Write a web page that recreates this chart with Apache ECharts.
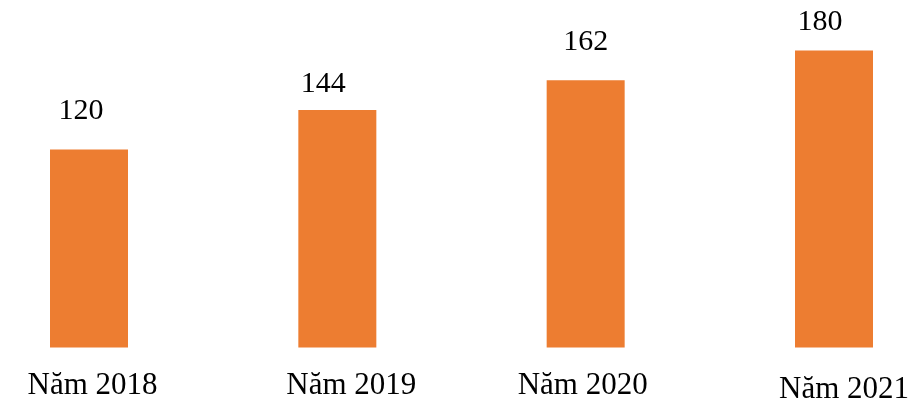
<!DOCTYPE html>
<html>
<head>
<meta charset="utf-8">
<script src="https://cdn.jsdelivr.net/npm/echarts@6/dist/echarts.min.js"></script>
<style>
  html, body { margin: 0; padding: 0; background: #fff; }
  #chart { width: 918px; height: 407px; }
</style>
</head>
<body>
<div id="chart"></div>
<script>
  var categories = ['Năm 2018', 'Năm 2019', 'Năm 2020', 'Năm 2021'];
  var values = [120, 144, 162, 180];

  // small hand placement of the texts, as in the picture
  var valueLabelShift = [[-8, 1], [-14, 13], [0, 1], [-14, 11]];
  var axisLabelPad = [[0, 0, 0, 7], [0, 0, 0, 28], [0, 6, 0, 0], [4, 0, 0, 20]];

  var chart = echarts.init(document.getElementById('chart'));
  chart.setOption({
    animation: false,
    grid: { left: 89, right: 84, top: 1, bottom: 59.5 },
    xAxis: {
      type: 'category',
      data: categories.map(function (c, i) {
        return { value: c, textStyle: { padding: axisLabelPad[i] } };
      }),
      boundaryGap: false,
      axisLine: { show: false },
      axisTick: { show: false },
      axisLabel: {
        margin: 23,
        fontFamily: 'Liberation Serif',
        fontSize: 31,
        color: '#000'
      }
    },
    yAxis: {
      type: 'value',
      min: 0,
      max: 210,
      show: false
    },
    series: [
      {
        type: 'bar',
        data: values.map(function (v, i) {
          return { value: v, label: { offset: valueLabelShift[i] } };
        }),
        barWidth: 78,
        itemStyle: { color: '#ED7D31' },
        label: {
          show: true,
          position: 'top',
          distance: 24,
          fontFamily: 'Liberation Serif',
          fontSize: 30,
          color: '#000'
        }
      }
    ]
  });
</script>
</body>
</html>
